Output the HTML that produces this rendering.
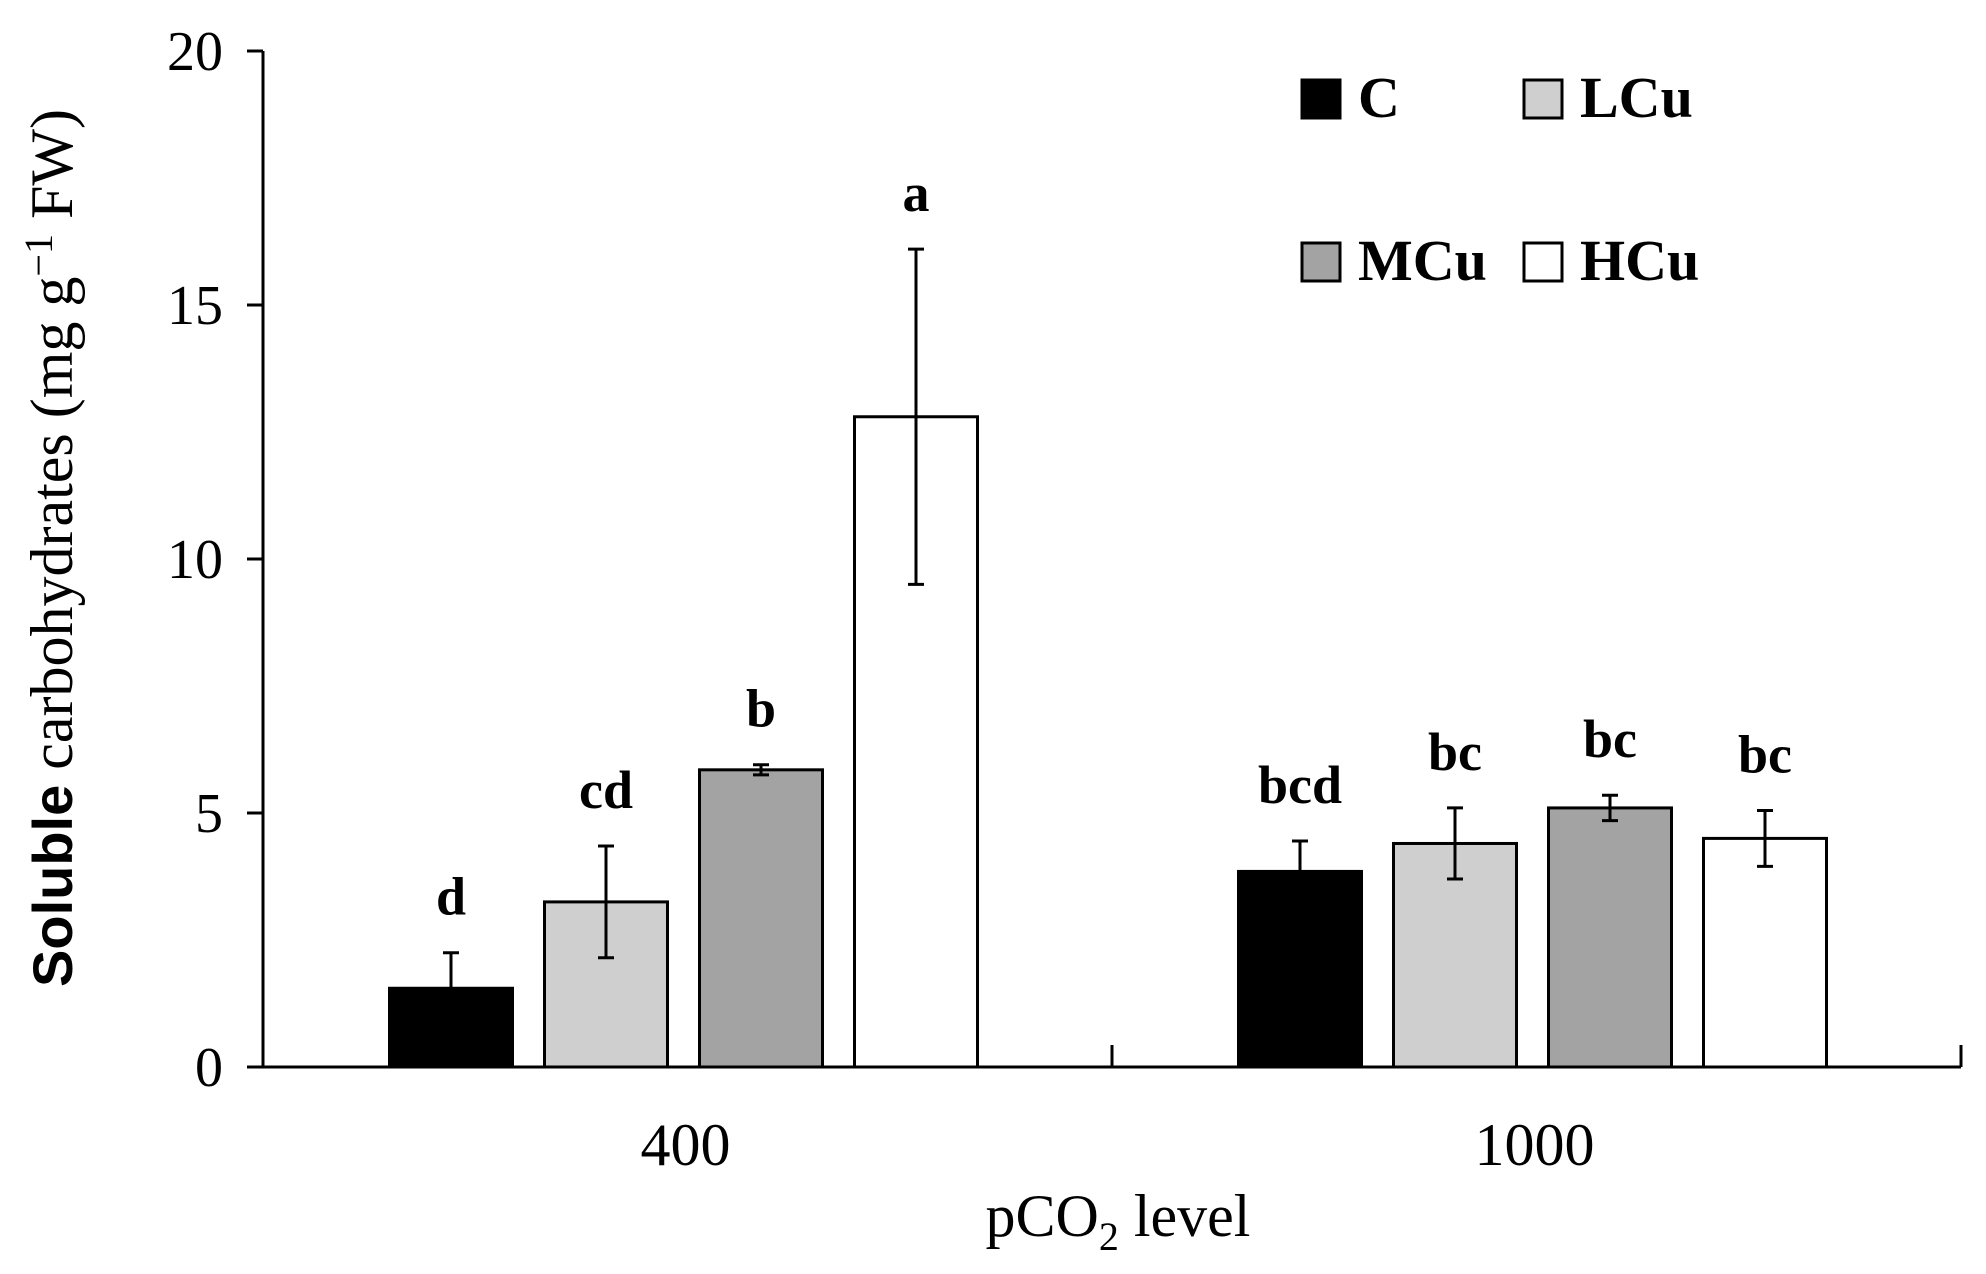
<!DOCTYPE html>
<html><head><meta charset="utf-8"><style>
html,body{margin:0;padding:0;background:#fff;}
svg text{font-family:"Liberation Serif",serif;fill:#000;}
</style></head><body>
<svg id="chart" width="1986" height="1269" viewBox="0 0 1986 1269" xmlns="http://www.w3.org/2000/svg"></svg>
<script>
const categories = ["400", "1000"];
const seriesNames = ["C", "LCu", "MCu", "HCu"];
const seriesColors = ["#000000", "#d0cfd0", "#a3a3a3", "#ffffff"];
const valuesC = [1.55, 3.85];
const valuesLCu = [3.25, 4.4];
const valuesMCu = [5.85, 5.1];
const valuesHCu = [12.8, 4.5];
const errC = [0.7, 0.6];
const errLCu = [1.1, 0.7];
const errMCu = [0.1, 0.25];
const errHCu = [3.3, 0.55];
const lettersC = ["d", "bcd"];
const lettersLCu = ["cd", "bc"];
const lettersMCu = ["b", "bc"];
const lettersHCu = ["a", "bc"];
const yTicks = [0, 5, 10, 15, 20];

const svg = document.getElementById('chart');
const NS = 'http://www.w3.org/2000/svg';
const x0 = 263, x1 = 1961, yBase = 1067, yTop = 51;
const yScale = v => yBase - (v / 20) * (yBase - yTop);
const catW = (x1 - x0) / categories.length;
const catCenter = i => x0 + catW * (i + 0.5);
const barW = 123, step = 155;
const barX = (ci, si) => catCenter(ci) - 298 + si * step;

function mk(tag, attrs, text) {
  const e = document.createElementNS(NS, tag);
  for (const k in attrs) e.setAttribute(k, attrs[k]);
  if (text !== undefined) e.textContent = text;
  svg.appendChild(e);
  return e;
}

const vals = [valuesC, valuesLCu, valuesMCu, valuesHCu];
const errs = [errC, errLCu, errMCu, errHCu];
const lets = [lettersC, lettersLCu, lettersMCu, lettersHCu];

for (let si = 0; si < 4; si++) {
  for (let ci = 0; ci < categories.length; ci++) {
    const v = vals[si][ci], er = errs[si][ci];
    const bx = barX(ci, si), top = yScale(v);
    const r = mk('rect', {x: bx, y: top, width: barW, height: yBase - top, fill: seriesColors[si], stroke: '#000', 'stroke-width': 3});
    
    
    const cx = bx + barW / 2, yh = yScale(v + er), yl = yScale(v - er);
    const eb = mk('path', {d: `M${cx},${yh}V${yl}M${cx-8},${yh}H${cx+8}M${cx-8},${yl}H${cx+8}`, stroke: '#000', 'stroke-width': 3, fill: 'none'});
    
    
    const lt = mk('text', {x: cx, y: yh - 38, 'text-anchor': 'middle', 'font-size': 54, 'font-weight': 'bold'}, lets[si][ci]);
    
    
  }
}

const ax = mk('path', {d: `M${x0},${yTop}V${yBase}H${x1}`, stroke: '#000', 'stroke-width': 3, fill: 'none'});


const mt = mk('line', {x1: (x0 + x1) / 2, x2: (x0 + x1) / 2, y1: yBase - 22, y2: yBase, stroke: '#000', 'stroke-width': 3});


const et = mk('line', {x1: x1, x2: x1, y1: yBase - 22, y2: yBase, stroke: '#000', 'stroke-width': 3});



yTicks.forEach(t => {
  const y = yScale(t);
  const tl = mk('line', {x1: x0 - 16, x2: x0, y1: y, y2: y, stroke: '#000', 'stroke-width': 3});
  
  
  const tx = mk('text', {x: 223, y: y + 19, 'text-anchor': 'end', 'font-size': 56}, String(t));
  
  
});

categories.forEach((c, i) => {
  const tx = mk('text', {x: catCenter(i) - 2, y: 1165, 'text-anchor': 'middle', 'font-size': 60}, c);
  
  
});

const legPos = [[1302, 80], [1524, 80], [1302, 243], [1524, 243]];
seriesNames.forEach((n, i) => {
  const [lx, ly] = legPos[i];
  const b = mk('rect', {x: lx, y: ly, width: 38, height: 38, fill: seriesColors[i], stroke: '#000', 'stroke-width': 3});
  
  
  const t = mk('text', {x: lx + 56, y: ly + 37, 'font-size': 58, 'font-weight': 'bold'}, n);
  
  
});
</script>
<svg style="position:absolute;left:0;top:0" width="1986" height="1269">
<text transform="translate(72,548) rotate(-90)" text-anchor="middle" font-size="60" font-family="Liberation Serif, serif"><tspan font-weight="bold" font-family="Liberation Sans, sans-serif" font-size="56">Soluble</tspan> carbohydrates (mg g<tspan dy="-20" font-size="40">−1</tspan><tspan dy="20"> FW)</tspan></text>
<text x="1118" y="1236" text-anchor="middle" font-size="60" font-family="Liberation Serif, serif">pCO<tspan dy="14" font-size="40">2</tspan><tspan dy="-14"> level</tspan></text>
</svg>
</body></html>
